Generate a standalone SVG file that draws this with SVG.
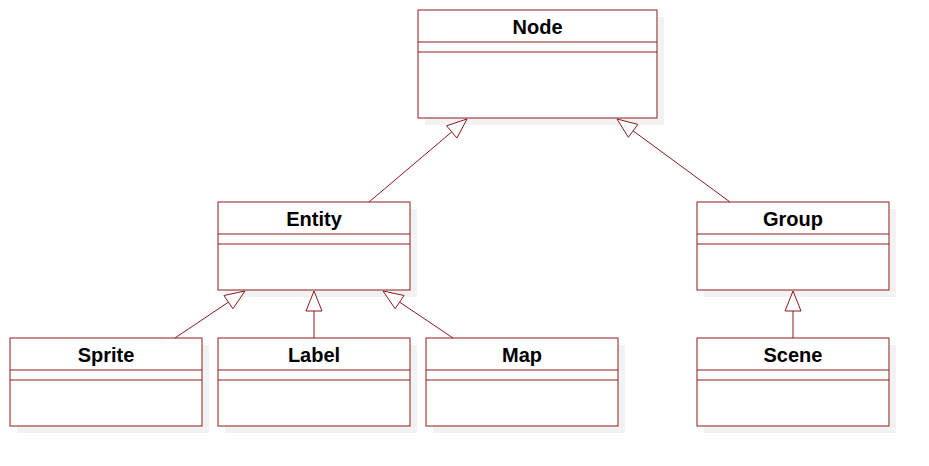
<svg xmlns="http://www.w3.org/2000/svg" width="929" height="466" viewBox="0 0 929 466">
<style>
.sh{fill:#f2f2f2;stroke:none}
.box{fill:#ffffff;stroke:#8b1a1a;stroke-width:1}
.ln{stroke:#8b1a1a;stroke-width:1;fill:none}
.ah{fill:#ffffff;stroke:#8b1a1a;stroke-width:1}
.t{font-family:"Liberation Sans",Arial,sans-serif;font-weight:bold;font-size:20px;fill:#000;text-anchor:middle}
</style>
<rect width="929" height="466" fill="#ffffff"/>
<g id="node-Node">
<rect class="sh" x="425" y="17" width="239" height="108"/>
<rect class="box" x="418" y="10" width="239" height="108"/>
<line class="ln" x1="418" y1="42" x2="657" y2="42"/>
<line class="ln" x1="418" y1="52" x2="657" y2="52"/>
<text class="t" x="537.5" y="34">Node</text>
</g>
<g id="node-Entity">
<rect class="sh" x="225" y="209" width="192" height="88"/>
<rect class="box" x="218" y="202" width="192" height="88"/>
<line class="ln" x1="218" y1="234" x2="410" y2="234"/>
<line class="ln" x1="218" y1="244" x2="410" y2="244"/>
<text class="t" x="314" y="226">Entity</text>
</g>
<g id="node-Group">
<rect class="sh" x="704" y="209" width="192" height="88"/>
<rect class="box" x="697" y="202" width="192" height="88"/>
<line class="ln" x1="697" y1="234" x2="889" y2="234"/>
<line class="ln" x1="697" y1="244" x2="889" y2="244"/>
<text class="t" x="793" y="226">Group</text>
</g>
<g id="node-Sprite">
<rect class="sh" x="17" y="345" width="192" height="88"/>
<rect class="box" x="10" y="338" width="192" height="88"/>
<line class="ln" x1="10" y1="370" x2="202" y2="370"/>
<line class="ln" x1="10" y1="380" x2="202" y2="380"/>
<text class="t" x="106" y="362">Sprite</text>
</g>
<g id="node-Label">
<rect class="sh" x="225" y="345" width="192" height="88"/>
<rect class="box" x="218" y="338" width="192" height="88"/>
<line class="ln" x1="218" y1="370" x2="410" y2="370"/>
<line class="ln" x1="218" y1="380" x2="410" y2="380"/>
<text class="t" x="314" y="362">Label</text>
</g>
<g id="node-Map">
<rect class="sh" x="433" y="345" width="192" height="88"/>
<rect class="box" x="426" y="338" width="192" height="88"/>
<line class="ln" x1="426" y1="370" x2="618" y2="370"/>
<line class="ln" x1="426" y1="380" x2="618" y2="380"/>
<text class="t" x="522" y="362">Map</text>
</g>
<g id="node-Scene">
<rect class="sh" x="704" y="345" width="192" height="88"/>
<rect class="box" x="697" y="338" width="192" height="88"/>
<line class="ln" x1="697" y1="370" x2="889" y2="370"/>
<line class="ln" x1="697" y1="380" x2="889" y2="380"/>
<text class="t" x="793" y="362">Scene</text>
</g>
<g id="connectors">
<line class="ln" x1="369" y1="202" x2="451.74" y2="131.93"/>
<polygon class="ah" points="467,119 456.91,138.03 446.57,125.83"/>
<line class="ln" x1="730" y1="202" x2="633.12" y2="130.84"/>
<polygon class="ah" points="617,119 637.86,124.39 628.38,137.29"/>
<line class="ln" x1="175" y1="338" x2="228.4" y2="302.15"/>
<polygon class="ah" points="245,291 232.86,308.79 223.94,295.51"/>
<line class="ln" x1="314" y1="338" x2="314" y2="311"/>
<polygon class="ah" points="314,291 322,311 306,311"/>
<line class="ln" x1="453" y1="338" x2="399.6" y2="302.15"/>
<polygon class="ah" points="383,291 404.06,295.51 395.14,308.79"/>
<line class="ln" x1="793" y1="338" x2="793" y2="311"/>
<polygon class="ah" points="793,291 801,311 785,311"/>
</g>
</svg>
